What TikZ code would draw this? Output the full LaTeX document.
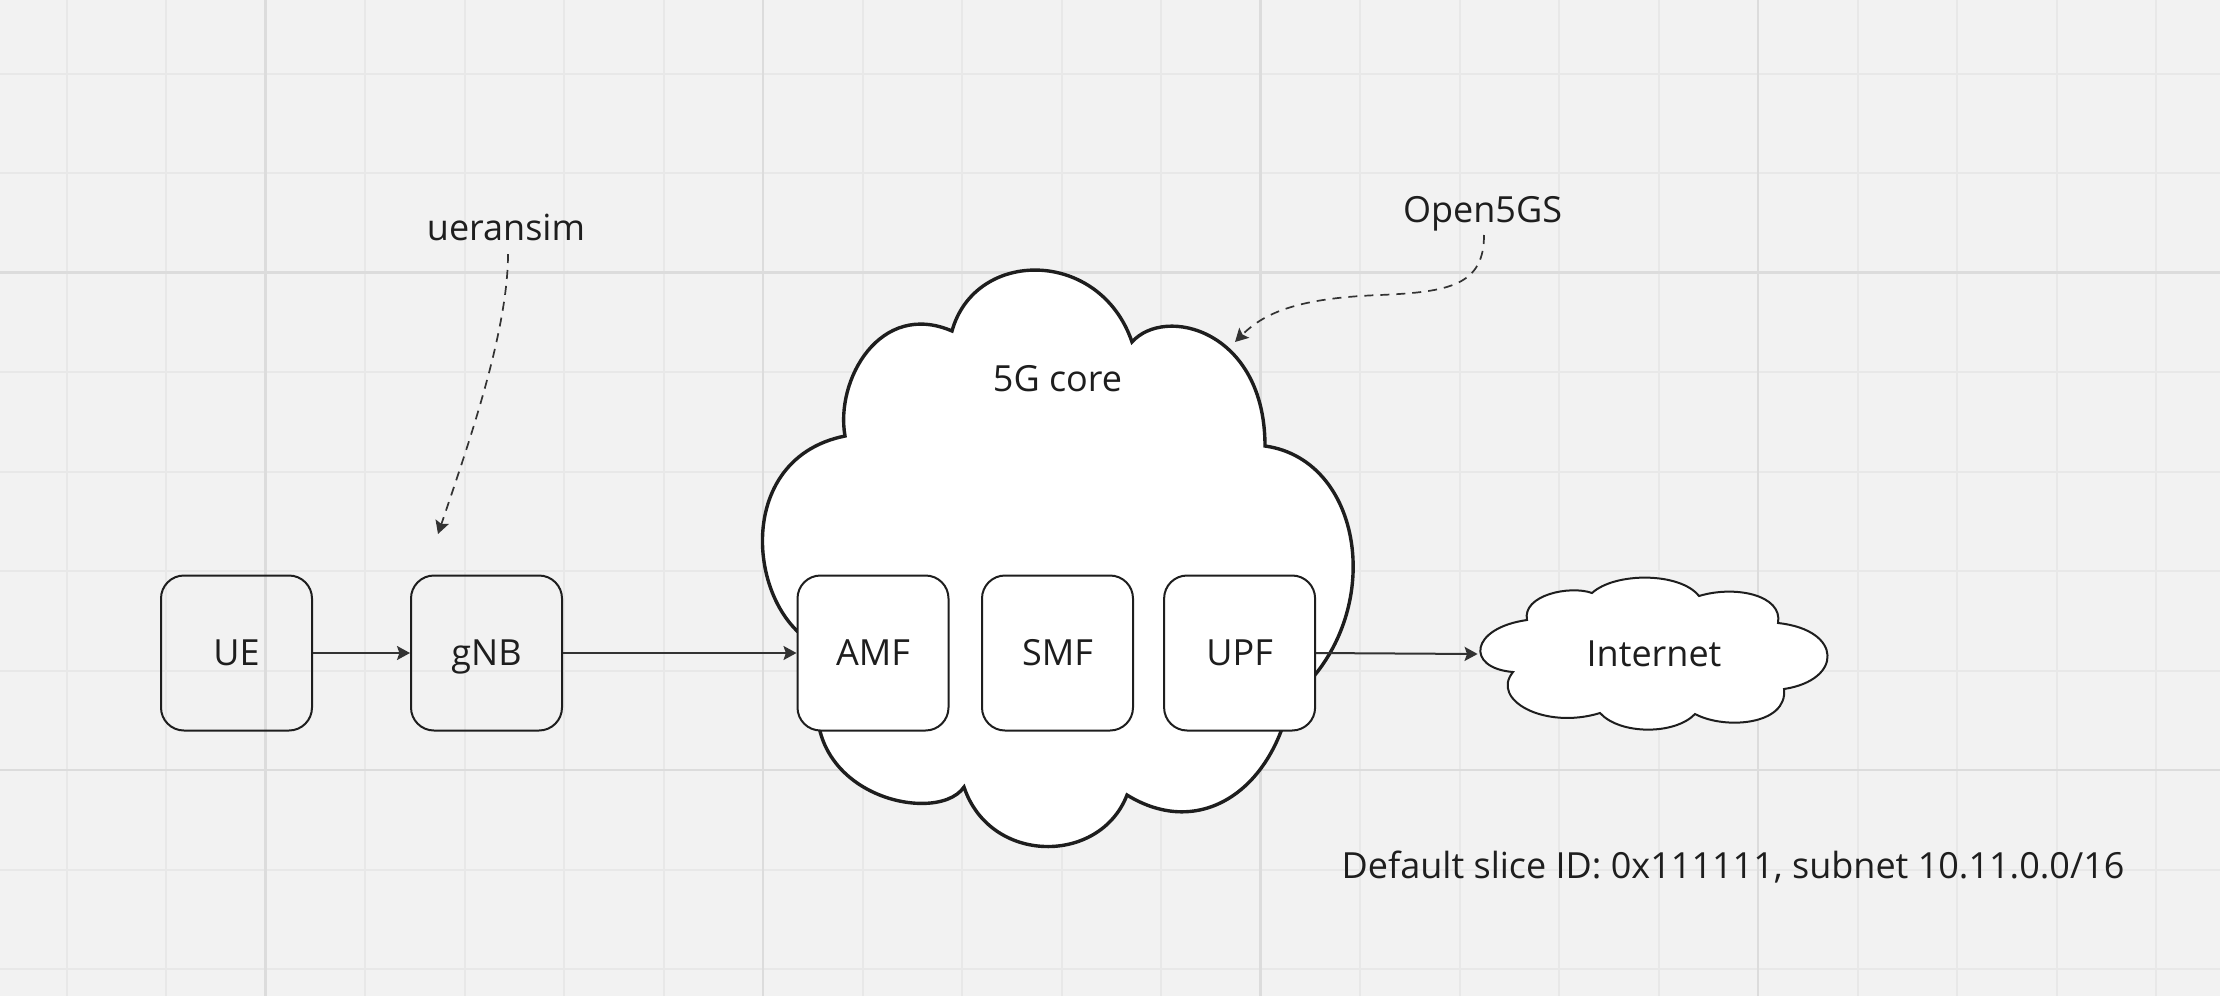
\documentclass[tikz,border=0pt]{standalone}
\usepackage{fontspec}
\setmainfont{Open Sans}
\usetikzlibrary{arrows.meta}
\definecolor{bg}{HTML}{F2F2F2}
\definecolor{gridminor}{HTML}{E8E8E8}
\definecolor{gridmajor}{HTML}{DCDCDC}
\definecolor{ink}{HTML}{1E1E1E}
\definecolor{linec}{HTML}{333333}
\tikzset{
  lbl/.style={inner sep=0pt, text=ink, font=\fontsize{18pt}{22pt}\selectfont},
  box/.style={draw=ink, line width=1pt, rounded corners=11.5pt,
    minimum width=75.5pt, minimum height=77.5pt, inner sep=0pt,
    text height=12.85pt, text depth=0pt, text=ink,
    font=\fontsize{18pt}{22pt}\selectfont},
  whitebox/.style={box, fill=white},
  arr/.style={draw=linec, line width=1pt,
    -{Stealth[length=6.5pt,width=7pt,inset=1.2pt]}},
  darr/.style={draw=linec, line width=0.85pt, dash pattern=on 4.5pt off 3.5pt,
    -{Stealth[length=6.5pt,width=7pt,inset=1.2pt]}},
  minorline/.style={draw=gridminor, line width=1pt},
  majorline/.style={draw=gridmajor, line width=1.3pt},
  cloudline/.style={draw=ink, line width=1.7pt, fill=white, line join=miter},
  smallcloud/.style={draw=ink, line width=1pt, fill=white, line join=miter},
}
\begin{document}
\begin{tikzpicture}[x=0.5pt,y=-0.5pt]
\useasboundingbox (0,0) rectangle (2220,996);
\fill[bg] (0,0) rectangle (2220,996);
% grid
\foreach \k in {0,...,21} {
  \pgfmathsetmacro\gx{66.5+99.5*\k}
  \draw[minorline] (\gx,0) -- (\gx,996);
}
\foreach \k in {0,...,9} {
  \pgfmathsetmacro\gy{73.5+99.5*\k}
  \draw[minorline] (0,\gy) -- (2220,\gy);
}
\foreach \gx in {265.5,763,1260.5,1758} {
  \draw[majorline] (\gx,0) -- (\gx,996);
}
\foreach \gy in {272.5,770} {
  \draw[majorline] (0,\gy) -- (2220,\gy);
}
% 5G core cloud
\draw[cloudline] (952,331) .. controls (975,248) and (1100,248) .. (1132,342)
  .. controls (1165,305) and (1265,330) .. (1265,446)
  .. controls (1366,460) and (1388,620) .. (1290,700)
  .. controls (1272,790) and (1200,840) .. (1127,795)
  .. controls (1100,865) and (990,865) .. (964,787)
  .. controls (935,830) and (770,790) .. (830,650)
  .. controls (750,630) and (725,460) .. (845,436)
  .. controls (835,380) and (880,300) .. (952,331) -- cycle;
% Internet cloud
\draw[smallcloud] (1527,620) .. controls (1470,628) and (1465,668) .. (1513,672)
  .. controls (1490,700) and (1545,730) .. (1600,713)
  .. controls (1620,735) and (1675,735) .. (1695,714)
  .. controls (1725,730) and (1788,725) .. (1784,689)
  .. controls (1843,680) and (1843,630) .. (1778,623)
  .. controls (1783,595) and (1735,585) .. (1699,596)
  .. controls (1680,572) and (1615,572) .. (1592,593)
  .. controls (1570,585) and (1522,595) .. (1527,620) -- cycle;
\node[lbl, minimum width=176pt, minimum height=76pt, text height=12.85pt, text depth=0pt] (inet) at (1654,654) {Internet};
% boxes
\node[box] (ue) at (236.5,653) {UE};
\node[box] (gnb) at (486.5,653) {gNB};
\node[whitebox] (amf) at (873,653) {AMF};
\node[whitebox] (smf) at (1057.5,653) {SMF};
\node[whitebox] (upf) at (1239.6,653) {UPF};
% labels
\node[lbl, anchor=base] (uer) at (506,240.7) {ueransim};
\node[lbl, anchor=base] (o5gs) at (1482.5,222.3) {Open5GS};
\node[lbl, anchor=base] (corelbl) at (1057.5,391.4) {5G core};
\node[lbl, anchor=base] (slice) at (1733,878.3) {Default slice ID: 0x111111, subnet 10.11.0.0/16};
% connectors
\draw[arr] (ue.east) -- (gnb.west);
\draw[arr] (gnb.east) -- (amf.west);
\draw[arr] (upf.east) -- (inet.west);
\coordinate (uerS) at (508,254);
\coordinate (gnbT) at (438,534);
\coordinate (o5S) at (1484,235);
\coordinate (coreT) at (1235,342);
\draw[darr] (uerS) .. controls (508,330) and (470,440) .. (gnbT);
\draw[darr] (o5S) .. controls (1484,285) and (1450,292) .. (1380,295)
  .. controls (1300,298) and (1265,312) .. (coreT);
\end{tikzpicture}
\end{document}
